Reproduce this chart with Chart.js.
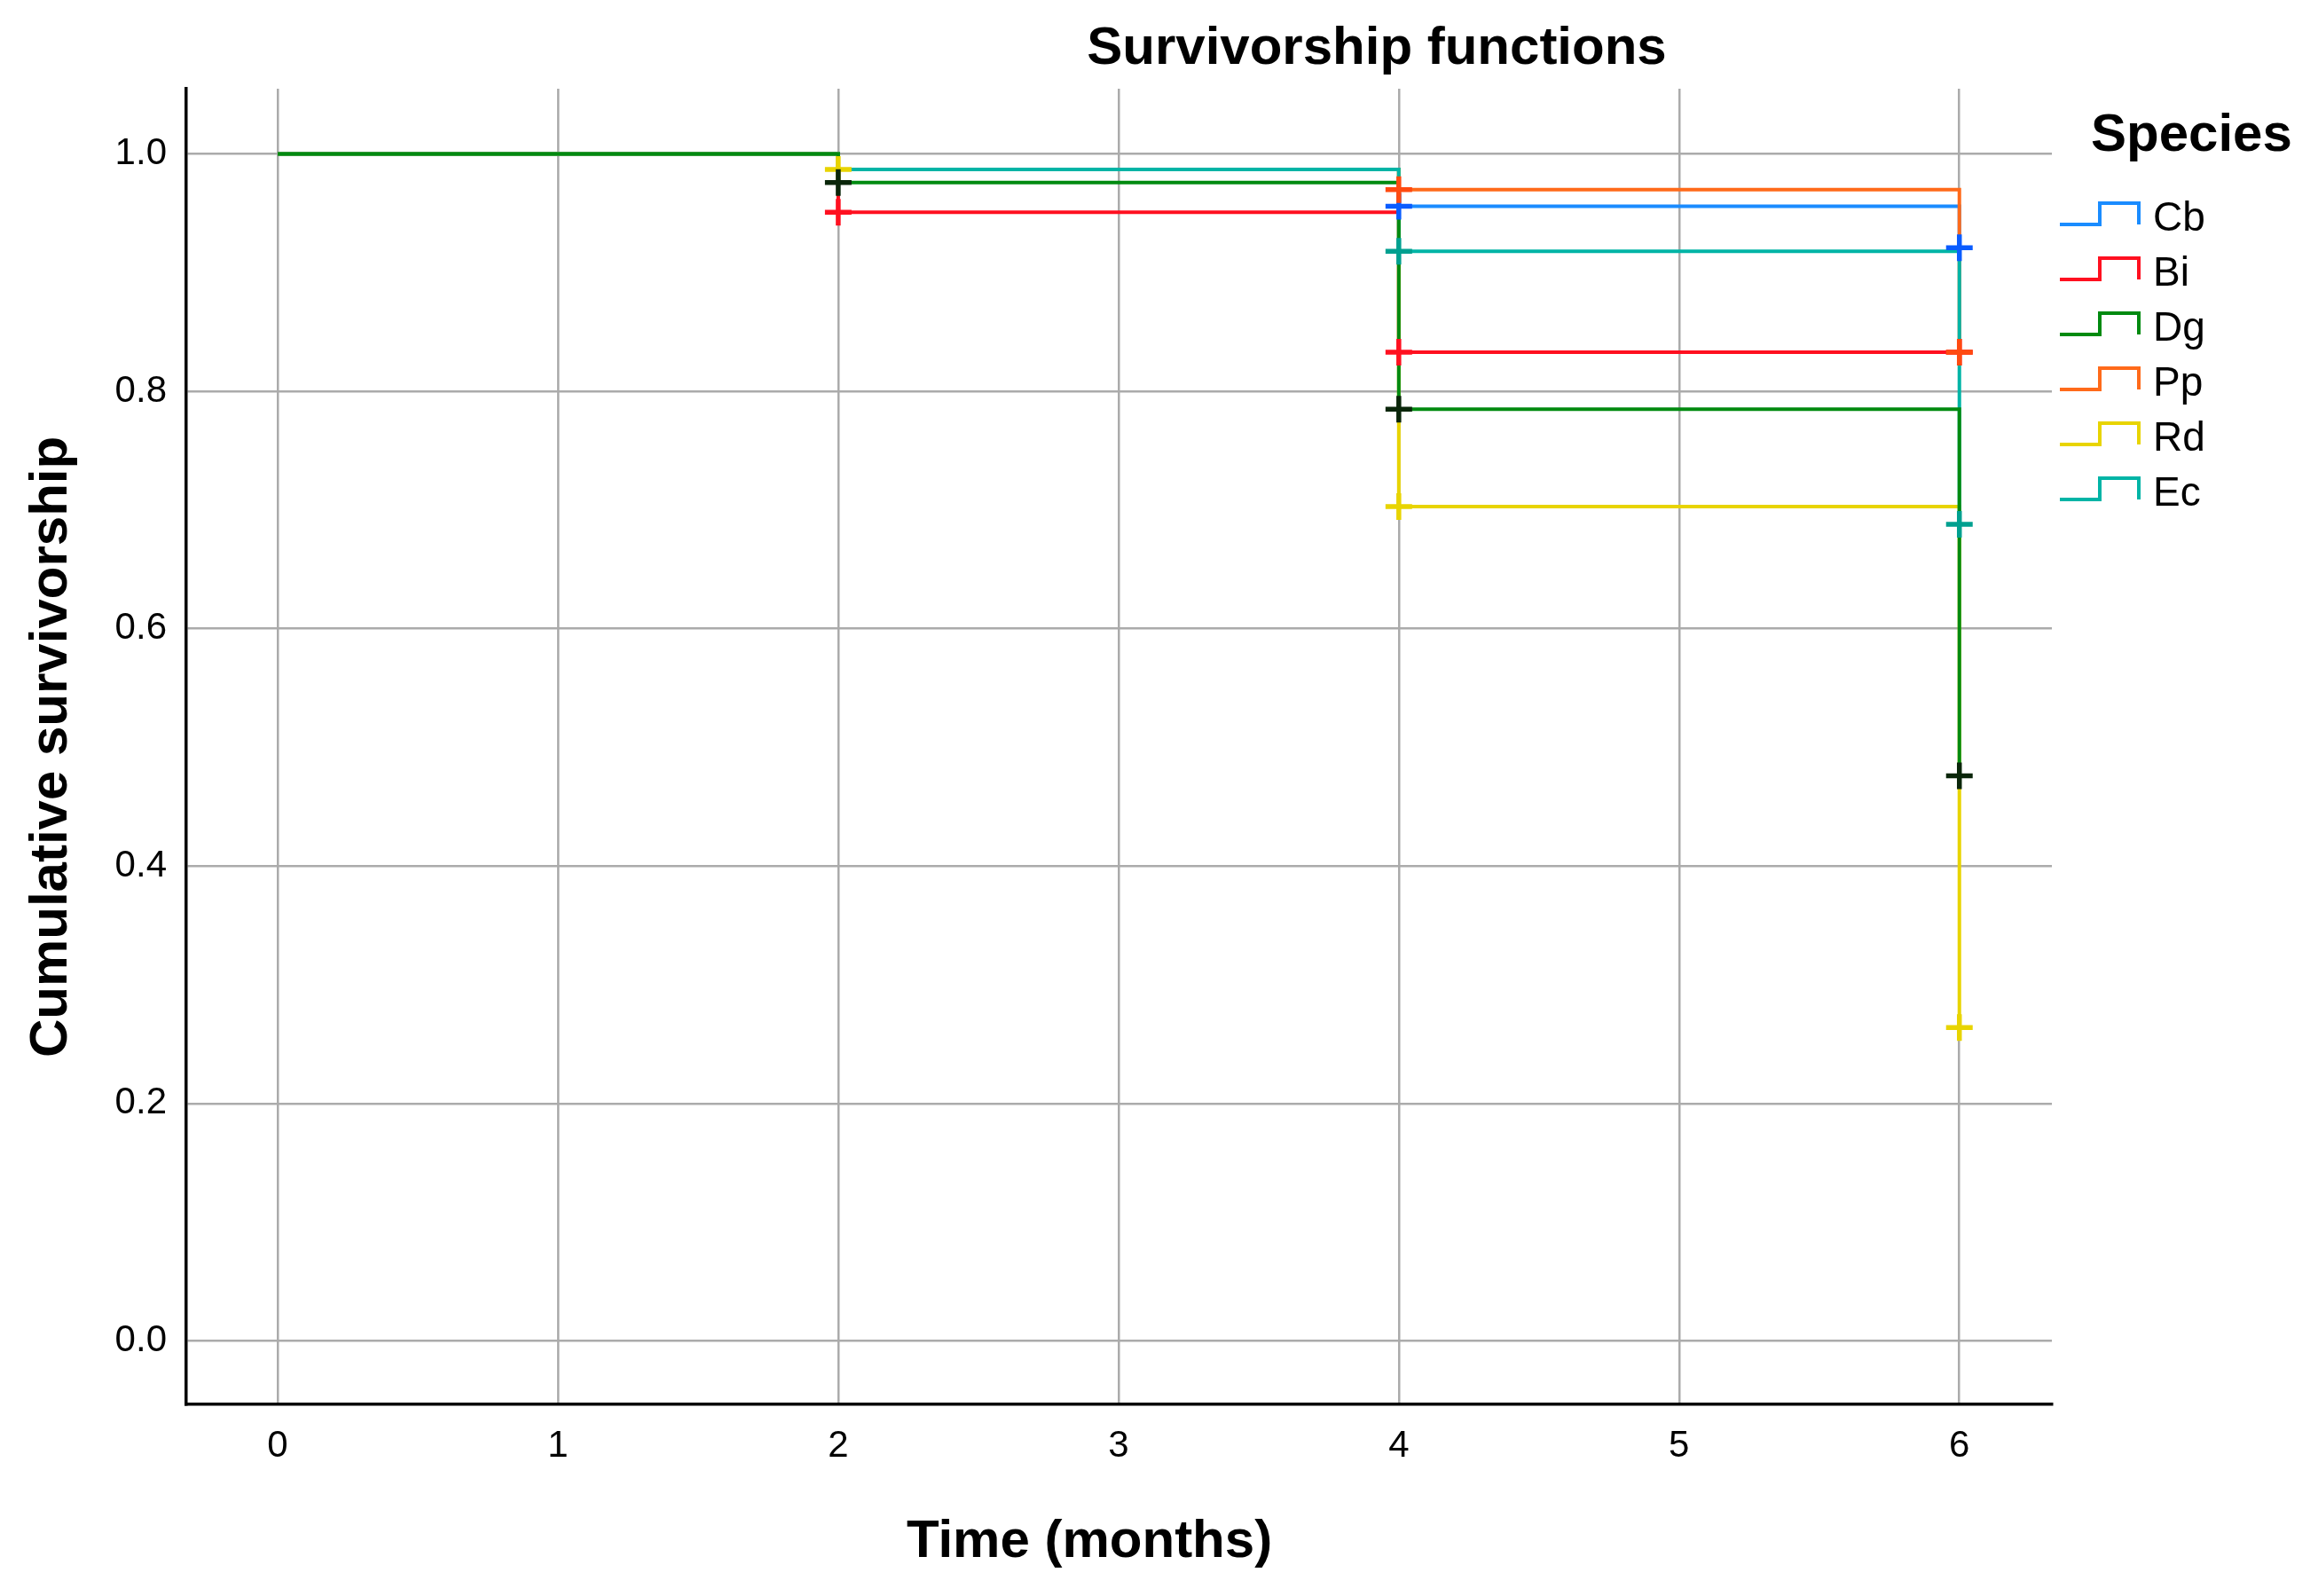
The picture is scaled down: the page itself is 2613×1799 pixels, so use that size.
<!DOCTYPE html>
<html>
<head>
<meta charset="utf-8">
<script src="https://cdn.jsdelivr.net/npm/chart.js@4/dist/chart.umd.min.js"></script>
<style>
  html, body { margin: 0; padding: 0; background: #ffffff; }
  #wrap { width: 2613px; height: 1799px; }
</style>
</head>
<body>
<div id="wrap"><canvas id="c" width="2613" height="1799"></canvas></div>
<script>
// ---- data ----
const chartTitle = "Survivorship functions";
const xTitle = "Time (months)";
const yTitle = "Cumulative survivorship";
const legendTitle = "Species";
const species = ["Cb", "Bi", "Dg", "Pp", "Rd", "Ec"];
const times = [0, 2, 4, 6];
const survCb = [1.0, 0.987, 0.956, 0.921];
const survBi = [1.0, 0.951, 0.833, 0.833];
const survDg = [1.0, 0.976, 0.785, 0.476];
const survPp = [1.0, 0.987, 0.970, 0.833];
const survRd = [1.0, 0.987, 0.703, 0.264];
const survEc = [1.0, 0.987, 0.918, 0.688];
const censorTimesCb = [4, 6];       const censorCb = [0.956, 0.921];
const censorTimesBi = [2, 4, 6];    const censorBi = [0.951, 0.833, 0.833];
const censorTimesDg = [2, 4, 6];    const censorDg = [0.976, 0.785, 0.476];
const censorTimesPp = [4, 6];       const censorPp = [0.970, 0.833];
const censorTimesRd = [2, 4, 6];    const censorRd = [0.987, 0.703, 0.264];
const censorTimesEc = [4, 6];       const censorEc = [0.918, 0.688];
const xTicks = [0, 1, 2, 3, 4, 5, 6];
const yTicks = [0.0, 0.2, 0.4, 0.6, 0.8, 1.0];

// ---- styles ----
const lineColors = ["#1a8cff", "#ff1020", "#008a10", "#ff6a1a", "#e8d400", "#00b4a6"];
const censorColors = ["#0a5cff", "#ff1020", "#0a260a", "#ff4a10", "#e8d400", "#00a090"];
const drawOrder = [5, 4, 0, 3, 2, 1]; // lower = on top
const survAll = [survCb, survBi, survDg, survPp, survRd, survEc];
const cTimesAll = [censorTimesCb, censorTimesBi, censorTimesDg, censorTimesPp, censorTimesRd, censorTimesEc];
const cAll = [censorCb, censorBi, censorDg, censorPp, censorRd, censorEc];
const FONT = "'Liberation Sans', Arial, Helvetica, sans-serif";

const datasets = [];
species.forEach((name, i) => {
  datasets.push({
    label: name,
    data: times.map((t, k) => ({ x: t, y: survAll[i][k] })),
    borderColor: lineColors[i],
    backgroundColor: lineColors[i],
    borderWidth: 4,
    stepped: true,
    pointRadius: 0,
    fill: false,
    order: drawOrder[i] + 10
  });
});
species.forEach((name, i) => {
  datasets.push({
    label: name + " censored",
    data: cTimesAll[i].map((t, k) => ({ x: t, y: cAll[i][k] })),
    borderColor: censorColors[i],
    backgroundColor: censorColors[i],
    showLine: false,
    pointStyle: "cross",
    pointRadius: 15,
    pointBorderWidth: 5.5,
    order: drawOrder[i]
  });
});

const decorPlugin = {
  id: "decor",
  afterDraw(chart) {
    const ctx = chart.ctx;
    ctx.save();
    ctx.fillStyle = "#000";
    ctx.textAlign = "center";
    ctx.textBaseline = "middle";
    ctx.font = "bold 60px " + FONT;
    ctx.fillText(chartTitle, 1552, 55);
    ctx.fillText(xTitle, 1228, 1738);
    ctx.save();
    ctx.translate(58, 842);
    ctx.rotate(-Math.PI / 2);
    ctx.fillText(yTitle, 0, 0);
    ctx.restore();
    // legend
    ctx.textAlign = "left";
    ctx.fillText(legendTitle, 2357, 153);
    ctx.font = "46px " + FONT;
    species.forEach((name, i) => {
      const cy = 247 + i * 62;
      const low = cy + 6, high = cy - 18;
      ctx.strokeStyle = lineColors[i];
      ctx.lineWidth = 4;
      ctx.lineJoin = "miter";
      ctx.beginPath();
      ctx.moveTo(2322, low);
      ctx.lineTo(2367, low);
      ctx.lineTo(2367, high);
      ctx.lineTo(2411, high);
      ctx.lineTo(2411, low);
      ctx.stroke();
      ctx.fillStyle = "#000";
      ctx.fillText(name, 2427, cy);
    });
    ctx.restore();
  }
};

new Chart(document.getElementById("c"), {
  type: "line",
  data: { datasets },
  options: {
    responsive: false,
    devicePixelRatio: 1,
    animation: false,
    layout: { padding: { left: 0, top: 100, right: 300, bottom: 0 } },
    plugins: {
      legend: { display: false },
      title: { display: false },
      tooltip: { enabled: false }
    },
    scales: {
      x: {
        type: "linear",
        min: -0.326,
        max: 6.33,
        afterBuildTicks: (s) => { s.ticks = xTicks.map(v => ({ value: v })); },
        afterFit: (s) => { s.height = 216; },
        grid: { color: "#ababab", lineWidth: 2.5, drawTicks: false },
        border: { display: true, color: "#000", width: 3.5 },
        ticks: {
          padding: 22,
          color: "#000",
          font: { family: FONT, size: 42 },
          callback: (v) => String(v)
        }
      },
      y: {
        type: "linear",
        min: -0.0535,
        max: 1.055,
        afterBuildTicks: (s) => { s.ticks = yTicks.map(v => ({ value: v })); },
        afterFit: (s) => { s.width = 210; },
        grid: { color: "#ababab", lineWidth: 2.5, drawTicks: false },
        border: { display: true, color: "#000", width: 3.5 },
        ticks: {
          padding: 22,
          color: "#000",
          font: { family: FONT, size: 42 },
          callback: (v) => Number(v).toFixed(1)
        }
      }
    }
  },
  plugins: [decorPlugin]
});
</script>
</body>
</html>
